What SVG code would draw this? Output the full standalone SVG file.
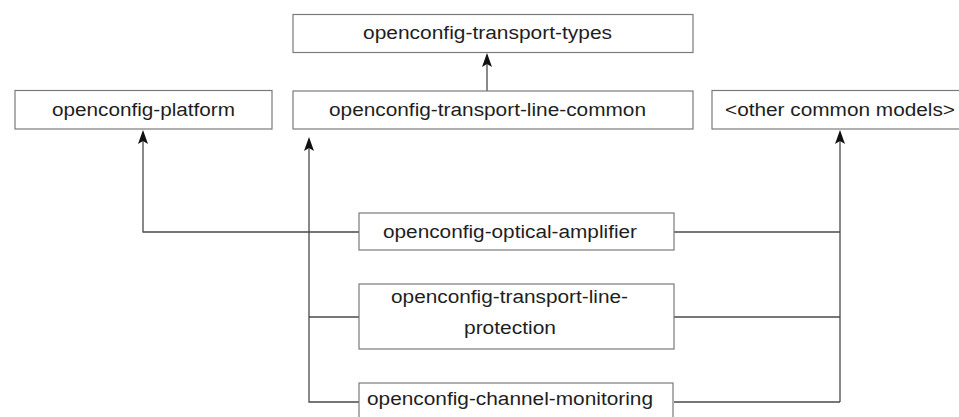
<svg xmlns="http://www.w3.org/2000/svg" xmlns:xlink="http://www.w3.org/1999/xlink" width="959" height="417" viewBox="0 0 959 417">
  <style>
    .box { fill: #ffffff; stroke: #7a7a7a; stroke-width: 1.2; }
    .lbl { font-family: "Liberation Sans", Arial, sans-serif; font-size: 18px; fill: #1e1e1e; text-anchor: middle; }
    .wire { fill: none; stroke: #4a4a4a; stroke-width: 1.3; }
    .head { fill: #111111; }
  </style>
  <defs>
    <!-- upward arrowhead, tip at origin -->
    <path id="ah" class="head" d="M0,0 L5,14 L0,11 L-5,14 Z"/>
  </defs>
  <rect width="959" height="417" fill="#ffffff"/>

  <g id="connectors">
    <path class="wire" d="M487,91 V55"/>
    <path class="wire" d="M359,232 H143 V132"/>
    <path class="wire" d="M309,139 V402 H359"/>
    <path class="wire" d="M309,317 H359"/>
    <path class="wire" d="M840,132 V402"/>
    <path class="wire" d="M674,232 H840"/>
    <path class="wire" d="M674,317 H840"/>
    <path class="wire" d="M674,402 H840"/>
    <use xlink:href="#ah" x="487" y="53"/>
    <use xlink:href="#ah" x="143" y="130"/>
    <use xlink:href="#ah" x="309" y="137"/>
    <use xlink:href="#ah" x="840" y="130"/>
  </g>

  <g id="transport-types">
    <rect class="box" x="293" y="14.5" width="400" height="38"/>
    <text class="lbl" x="487.5" y="39" textLength="249" lengthAdjust="spacingAndGlyphs">openconfig-transport-types</text>
  </g>

  <g id="platform">
    <rect class="box" x="15" y="90.5" width="257" height="38.5"/>
    <text class="lbl" x="143.5" y="116" textLength="183" lengthAdjust="spacingAndGlyphs">openconfig-platform</text>
  </g>

  <g id="transport-line-common">
    <rect class="box" x="293" y="91" width="400" height="38"/>
    <text class="lbl" x="487.5" y="116" textLength="317" lengthAdjust="spacingAndGlyphs">openconfig-transport-line-common</text>
  </g>

  <g id="other-common-models">
    <rect class="box" x="712" y="90.5" width="252" height="38.5"/>
    <text class="lbl" x="840" y="116" textLength="230" lengthAdjust="spacingAndGlyphs">&lt;other common models&gt;</text>
  </g>

  <g id="optical-amplifier">
    <rect class="box" x="359" y="213" width="315" height="37"/>
    <text class="lbl" x="510" y="238" textLength="254" lengthAdjust="spacingAndGlyphs">openconfig-optical-amplifier</text>
  </g>

  <g id="transport-line-protection">
    <rect class="box" x="359" y="284" width="315" height="65"/>
    <text class="lbl" x="509.5" y="302.5" textLength="237" lengthAdjust="spacingAndGlyphs">openconfig-transport-line-</text>
    <text class="lbl" x="510" y="334" textLength="92" lengthAdjust="spacingAndGlyphs">protection</text>
  </g>

  <g id="channel-monitoring">
    <rect class="box" x="359" y="383" width="314" height="40"/>
    <text class="lbl" x="510" y="405" textLength="286" lengthAdjust="spacingAndGlyphs">openconfig-channel-monitoring</text>
  </g>
</svg>
